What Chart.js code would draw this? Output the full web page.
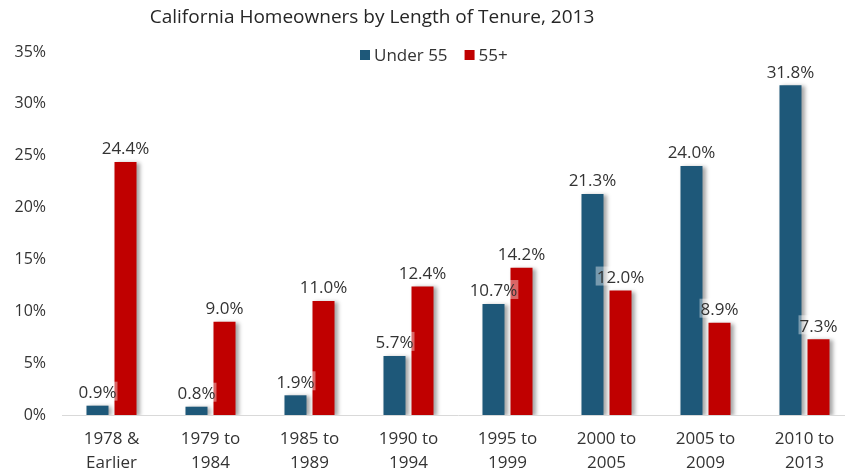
<!DOCTYPE html>
<html>
<head>
<meta charset="utf-8">
<script src="https://cdn.jsdelivr.net/npm/chart.js@4/dist/chart.umd.min.js"></script>
<style>
	html, body { margin: 0; padding: 0; background: #fff; overflow: hidden; }
	#wrap { width: 845px; height: 474px; overflow: hidden; }
</style>
</head>
<body>
<div id="wrap"><canvas id="barChart" width="856" height="474"></canvas></div>
<script>
var categories = [['1978 &', 'Earlier'], ['1979 to', '1984'], ['1985 to', '1989'], ['1990 to', '1994'], ['1995 to', '1999'], ['2000 to', '2005'], ['2005 to', '2009'], ['2010 to', '2013']];
var under55 = [0.9, 0.8, 1.9, 5.7, 10.7, 21.3, 24.0, 31.8];
var over55 = [24.4, 9.0, 11.0, 12.4, 14.2, 12.0, 8.9, 7.3];
var seriesNames = ['Under 55', '55+'];
var yTicks = [0, 5, 10, 15, 20, 25, 30, 35];

var COLOR_BLUE = '#1E5879';
var COLOR_RED = '#C00000';
var COLOR_TEXT = '#333333';
var FONT_FAMILY = '"Open Sans", sans-serif';

// shadow on bars, data labels, title and legend drawn on top
var decorPlugin = {
	id: 'decor',
	beforeDatasetsDraw: function(chart) {
		var ctx = chart.ctx;
		ctx.save();
		ctx.shadowColor = 'rgba(0,0,0,0.35)';
		ctx.shadowBlur = 4;
		ctx.shadowOffsetX = 3;
		ctx.shadowOffsetY = 1;
	},
	afterDatasetsDraw: function(chart) {
		var ctx = chart.ctx;
		ctx.restore();
		ctx.save();
		ctx.font = '17px ' + FONT_FAMILY;
		ctx.textAlign = 'center';
		ctx.textBaseline = 'bottom';
		chart.data.datasets.forEach(function(ds, i) {
			chart.getDatasetMeta(i).data.forEach(function(bar, j) {
				var txt = ds.data[j].toFixed(1) + '%';
				var w = ctx.measureText(txt).width;
				var y = bar.y - 4;
				ctx.fillStyle = 'rgba(255,255,255,0.4)';
				ctx.fillRect(bar.x - w / 2 - 1, y - 20, w + 2, 19);
				ctx.fillStyle = COLOR_TEXT;
				ctx.fillText(txt, bar.x, y);
			});
		});
		ctx.restore();
	},
	afterDraw: function(chart) {
		var ctx = chart.ctx;
		ctx.save();
		ctx.fillStyle = '#262626';
		ctx.font = '19px ' + FONT_FAMILY;
		ctx.textAlign = 'center';
		ctx.textBaseline = 'middle';
		ctx.fillText('California Homeowners by Length of Tenure, 2013', 372, 18);

		ctx.font = '17px ' + FONT_FAMILY;
		ctx.textAlign = 'left';
		var x = 360;
		chart.data.datasets.forEach(function(ds) {
			ctx.fillStyle = ds.backgroundColor;
			ctx.fillRect(x, 50, 10, 10);
			ctx.fillStyle = COLOR_TEXT;
			ctx.fillText(ds.label, x + 14, 56);
			x += 14 + ctx.measureText(ds.label).width + 17;
		});
		ctx.restore();
	}
};

var ctx = document.getElementById('barChart');
var barChart = new Chart(ctx, {
	type: 'bar',
	data: {
		labels: categories,
		datasets: [{
			label: seriesNames[0],
			data: under55,
			backgroundColor: COLOR_BLUE,
			borderWidth: 0
		}, {
			label: seriesNames[1],
			data: over55,
			backgroundColor: COLOR_RED,
			borderWidth: 0
		}]
	},
	options: {
		responsive: false,
		animation: false,
		categoryPercentage: 0.566,
		barPercentage: 0.786,
		layout: { padding: { top: 52, right: 2, left: 0, bottom: 0 } },
		plugins: {
			legend: { display: false },
			title: { display: false },
			tooltip: { enabled: false }
		},
		scales: {
			x: {
				grid: { display: false, drawTicks: false },
				border: { display: true, color: '#D9D9D9', width: 1 },
				ticks: {
					color: COLOR_TEXT,
					font: { family: FONT_FAMILY, size: 17, lineHeight: 1.4 },
					padding: 12,
					maxRotation: 0,
					autoSkip: false
				},
				afterFit: function(scale) { scale.height = 59; }
			},
			y: {
				min: 0,
				max: 35,
				grid: { display: false, drawTicks: false },
				border: { display: false },
				afterBuildTicks: function(scale) {
					scale.ticks = yTicks.map(function(v) { return { value: v }; });
				},
				ticks: {
					color: COLOR_TEXT,
					font: { family: FONT_FAMILY, size: 16 },
					padding: 16,
					callback: function(v) { return v + '%'; }
				},
				afterFit: function(scale) { scale.width = 62; }
			}
		}
	},
	plugins: [decorPlugin]
});
</script>
</body>
</html>
